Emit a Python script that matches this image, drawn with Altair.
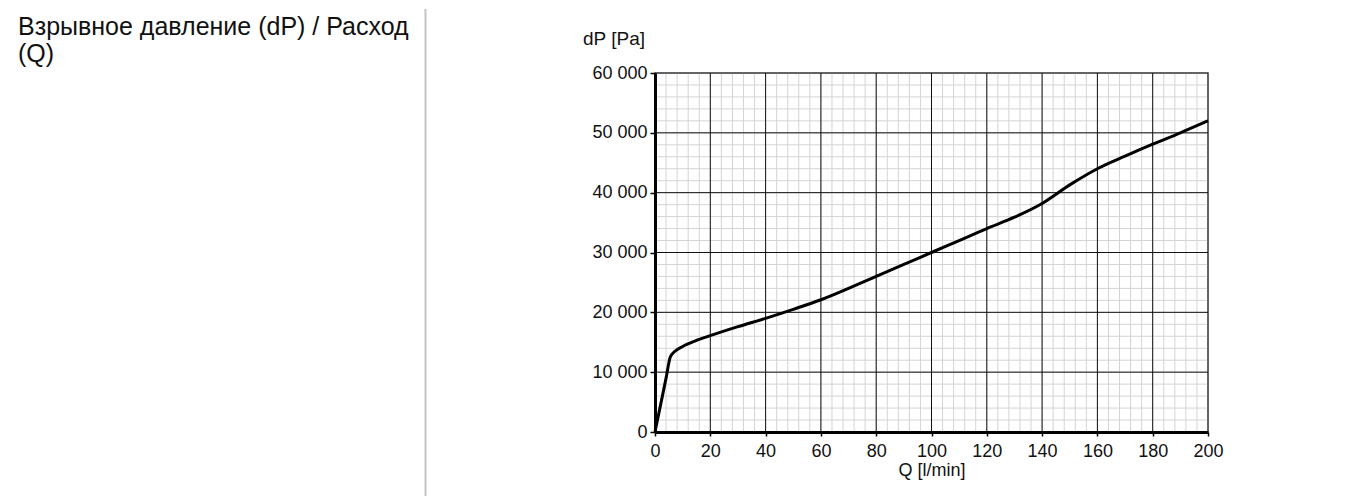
import altair as alt
import pandas as pd

# curve data
q_vals = [0, 2, 4, 5.5, 7, 10, 15, 20, 30, 40, 50, 60, 70, 80, 90, 100,
          110, 120, 130, 140, 150, 160, 170, 180, 190, 200]
dp_vals = [0, 4500, 9000, 12500, 13400, 14300, 15300, 16100, 17600, 19000,
           20500, 22100, 24000, 26000, 28000, 30000, 32000, 34000, 35900,
           38200, 41300, 44000, 46100, 48100, 50000, 52000]

x_major = [0, 20, 40, 60, 80, 100, 120, 140, 160, 180, 200]
y_major = [0, 10000, 20000, 30000, 40000, 50000, 60000]
x_minor = [v for v in range(0, 201, 4)]
y_minor = [v for v in range(0, 60001, 2000)]

page_title = ["Взрывное давление (dP) / Расход", "(Q)"]
y_title = "dP [Pa]"
x_title = "Q [l/min]"

FONT = "Liberation Sans"

curve = pd.DataFrame({"Q": q_vals, "dP": dp_vals})
xs = alt.Scale(domain=[0, 200], nice=False, zero=False)
ys = alt.Scale(domain=[0, 60000], nice=False, zero=False)

X_AX = alt.Axis(
    values=x_major, grid=False, title=x_title, titleFont=FONT,
    titleFontSize=18, titleFontWeight="normal", titleColor="#111",
    titlePadding=1, labelFont=FONT, labelFontSize=18, labelColor="#111",
    labelPadding=6, tickSize=4, tickColor="#000", tickWidth=1.5,
    domainColor="#000", domainWidth=3, labelFlush=False, zindex=1)
Y_AX = alt.Axis(
    values=y_major, grid=False, title=None,
    labelExpr="replace(format(datum.value, ','), ',', ' ')",
    labelFont=FONT, labelFontSize=18, labelColor="#111",
    labelPadding=3, tickSize=5, tickColor="#000", tickWidth=1.5,
    domainColor="#000", domainWidth=3, labelFlush=False, zindex=1)

minor_v = alt.Chart(pd.DataFrame({"Q": x_minor})).mark_rule(
    color="#d4d4d4", strokeWidth=1).encode(x=alt.X("Q:Q", scale=xs, axis=X_AX))
minor_h = alt.Chart(pd.DataFrame({"dP": y_minor})).mark_rule(
    color="#d4d4d4", strokeWidth=1).encode(y=alt.Y("dP:Q", scale=ys, axis=Y_AX))
major_v = alt.Chart(pd.DataFrame({"Q": x_major})).mark_rule(
    color="#111111", strokeWidth=1).encode(x=alt.X("Q:Q", scale=xs, axis=X_AX))
major_h = alt.Chart(pd.DataFrame({"dP": y_major})).mark_rule(
    color="#111111", strokeWidth=1).encode(y=alt.Y("dP:Q", scale=ys, axis=Y_AX))

line = alt.Chart(curve).mark_line(
    color="#000000", strokeWidth=3, interpolate="monotone").encode(
    x=alt.X("Q:Q", scale=xs, axis=X_AX),
    y=alt.Y("dP:Q", scale=ys, axis=Y_AX),
)

ylab = alt.Chart(pd.DataFrame({"t": [y_title]})).mark_text(
    font=FONT, fontSize=19, align="left", baseline="alphabetic", color="#111"
).encode(text="t:N", x=alt.value(-72), y=alt.value(-28))

ttl = alt.Chart(pd.DataFrame({"t": page_title, "yy": [-38, -11]})).mark_text(
    font=FONT, fontSize=25, align="left", baseline="alphabetic", color="#111"
).encode(text="t:N", x=alt.value(-637), y=alt.Y("yy:Q", scale=None))

divider = alt.Chart(pd.DataFrame({"a": [0]})).mark_rule(
    color="#c4c4c4", strokeWidth=2).encode(
    x=alt.value(-229.5), y=alt.value(-64), y2=alt.value(440))

chart = alt.layer(minor_v, minor_h, major_v, major_h, line, ylab, ttl, divider).properties(
    width=553, height=359,
    autosize=alt.AutoSizeParams(type="none"),
    padding={"left": 647, "top": 65, "right": 146, "bottom": 64},
).configure_view(stroke="#9a9a9a", strokeWidth=2)

chart.save("out.html", embed_options={"renderer": "svg", "actions": False})
